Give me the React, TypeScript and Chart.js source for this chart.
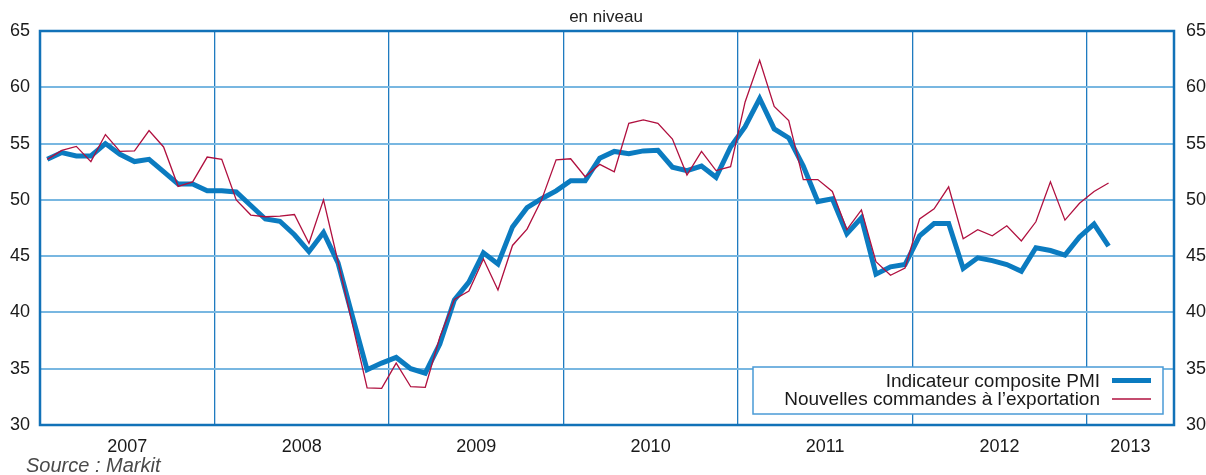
import React, { useEffect, useRef } from 'react';
import { Chart, registerables } from 'chart.js';

Chart.register(...registerables);

const years = ['2007', '2008', '2009', '2010', '2011', '2012', '2013'];
const monthsShown = 78;
const yMin = 30;
const yMax = 65;
const yStep = 5;
const subtitle = 'en niveau';
const sourceText = 'Source : Markit';
const seriesNames = ['Indicateur composite PMI', 'Nouvelles commandes à l’exportation'];

// Monthly values, Jan 2007 .. Feb 2013
const pmi = [
  53.6, 54.2, 53.9, 53.9, 55.0, 54.05, 53.4, 53.6, 52.5, 51.4, 51.4, 50.8,
  50.8, 50.7, 49.5, 48.3, 48.1, 46.9, 45.4, 47.1, 44.4, 39.6, 34.9, 35.5,
  36.0, 35.0, 34.6, 37.2, 41.1, 42.7, 45.3, 44.3, 47.6, 49.3, 50.1, 50.8,
  51.7, 51.7, 53.7, 54.3, 54.1, 54.35, 54.4, 52.9, 52.6, 53.0, 52.0, 54.7,
  56.5, 59.0, 56.3, 55.5, 53.0, 49.85, 50.1, 47.0, 48.4, 43.4, 44.05, 44.25,
  46.8, 47.9, 47.9, 43.9, 44.85, 44.6, 44.25, 43.65, 45.75, 45.5, 45.1, 46.7,
  47.85, 45.9,
];

const exportOrders = [
  53.6, 54.4, 54.75, 53.4, 55.8, 54.3, 54.35, 56.15, 54.7, 51.2, 51.6, 53.8,
  53.6, 50.0, 48.65, 48.5, 48.55, 48.7, 46.15, 50.0, 44.5, 38.9, 33.3, 33.25,
  35.5, 33.4, 33.35, 37.8, 41.15, 41.9, 44.75, 42.0, 45.95, 47.4, 50.0, 53.55,
  53.65, 52.05, 53.15, 52.5, 56.8, 57.1, 56.8, 55.4, 52.2, 54.3, 52.6, 52.95,
  58.7, 62.4, 58.3, 57.05, 51.8, 51.8, 50.75, 47.35, 49.1, 44.5, 43.3, 43.95,
  48.3, 49.2, 51.15, 46.55, 47.35, 46.8, 47.7, 46.35, 48.05, 51.6, 48.2, 49.7,
  50.75, 51.5,
];

const FONT = "'Liberation Sans', Arial, sans-serif";
const PMI_COLOR = '#0b7bc0';
const EXP_COLOR = '#b0103f';
const FRAME_COLOR = '#1272b8';

const yearCenters = years.map((_, i) => {
  const s = i * 12;
  const e = Math.min(s + 12, monthsShown);
  return (s + e) / 2;
});
const yearBounds = years.map((_, i) => i * 12).filter((v) => v > 0 && v < monthsShown);

const decorPlugin = {
  id: 'decor',
  beforeDatasetsDraw(chart: any) {
    const { ctx, chartArea } = chart;
    ctx.save();
    ctx.strokeStyle = FRAME_COLOR;
    ctx.lineWidth = 2.5;
    ctx.strokeRect(chartArea.left, chartArea.top, chartArea.right - chartArea.left, chartArea.bottom - chartArea.top);
    ctx.restore();
  },
  afterDraw(chart: any) {
    const { ctx, chartArea } = chart;
    ctx.save();
    // subtitle
    ctx.fillStyle = '#222';
    ctx.font = `17px ${FONT}`;
    ctx.textAlign = 'center';
    ctx.textBaseline = 'middle';
    ctx.fillText(subtitle, (chartArea.left + chartArea.right) / 2 - 1, 17);

    // source
    ctx.fillStyle = '#4a4a4a';
    ctx.font = `italic 20px ${FONT}`;
    ctx.textAlign = 'left';
    ctx.textBaseline = 'alphabetic';
    ctx.fillText(sourceText, 26, 472);

    // legend box
    const bx = 753, by = 367, bw = 410, bh = 47;
    ctx.fillStyle = '#ffffff';
    ctx.fillRect(bx, by, bw, bh);
    ctx.strokeStyle = '#4a9ad6';
    ctx.lineWidth = 1.5;
    ctx.strokeRect(bx, by, bw, bh);

    ctx.font = `19px ${FONT}`;
    ctx.fillStyle = '#1a1a1a';
    ctx.textAlign = 'right';
    ctx.textBaseline = 'middle';
    const textRight = 1100;
    const rows = [
      { label: seriesNames[0], color: PMI_COLOR, width: 5, y: 380.5 },
      { label: seriesNames[1], color: EXP_COLOR, width: 1.3, y: 399 },
    ];
    rows.forEach((r) => {
      ctx.fillText(r.label, textRight, r.y + 1);
      ctx.beginPath();
      ctx.strokeStyle = r.color;
      ctx.lineWidth = r.width;
      ctx.moveTo(1112, r.y);
      ctx.lineTo(1151, r.y);
      ctx.stroke();
    });
    ctx.restore();
  },
};

export default function App() {
  const ref = useRef<HTMLCanvasElement | null>(null);

  useEffect(() => {
    document.body.style.margin = '0';
    const canvas = ref.current;
    if (!canvas) return;
    const chart = new Chart(canvas, {
      type: 'line',
      data: {
        datasets: [
          {
            label: seriesNames[1],
            data: exportOrders.map((v, i) => ({ x: i + 0.5, y: v })),
            borderColor: EXP_COLOR,
            borderWidth: 1.3,
            pointRadius: 0,
            tension: 0,
            order: 0,
            xAxisID: 'x',
            yAxisID: 'y',
          },
          {
            label: seriesNames[0],
            data: pmi.map((v, i) => ({ x: i + 0.5, y: v })),
            borderColor: PMI_COLOR,
            borderWidth: 5,
            pointRadius: 0,
            tension: 0,
            order: 1,
            xAxisID: 'x',
            yAxisID: 'y',
          },
        ],
      },
      options: {
        responsive: false,
        animation: false,
        devicePixelRatio: 1,
        layout: { padding: { top: 31, bottom: 0, left: 0, right: 0 } },
        plugins: {
          legend: { display: false },
          tooltip: { enabled: false },
          title: { display: false },
        },
        scales: {
          x: {
            type: 'linear',
            position: 'bottom',
            min: 0,
            max: monthsShown,
            afterBuildTicks: (s: any) => {
              s.ticks = yearCenters.map((v) => ({ value: v }));
            },
            afterFit: (s: any) => {
              s.height = 50;
            },
            grid: { display: false, drawTicks: false },
            border: { display: false },
            ticks: {
              autoSkip: false,
              maxRotation: 0,
              padding: 11,
              color: '#1a1a1a',
              font: { family: FONT, size: 18 },
              callback: (v: any) => {
                const idx = yearCenters.indexOf(Number(v));
                return idx >= 0 ? years[idx] : '';
              },
            },
          },
          x2: {
            type: 'linear',
            position: 'top',
            min: 0,
            max: monthsShown,
            afterBuildTicks: (s: any) => {
              s.ticks = yearBounds.map((v) => ({ value: v }));
            },
            afterFit: (s: any) => {
              s.height = 0;
            },
            grid: { display: true, drawTicks: false, color: '#1f7bc0', lineWidth: 1.3 },
            border: { display: false },
            ticks: { display: false },
          },
          y: {
            type: 'linear',
            position: 'left',
            min: yMin,
            max: yMax,
            afterFit: (s: any) => {
              s.width = 40;
            },
            grid: { display: true, drawTicks: false, color: '#78b7e1', lineWidth: 2 },
            border: { display: false },
            ticks: {
              stepSize: yStep,
              padding: 10,
              color: '#1a1a1a',
              font: { family: FONT, size: 18 },
            },
          },
          y2: {
            type: 'linear',
            position: 'right',
            min: yMin,
            max: yMax,
            afterFit: (s: any) => {
              s.width = 32;
            },
            grid: { display: false, drawTicks: false },
            border: { display: false },
            ticks: {
              stepSize: yStep,
              padding: 12,
              color: '#1a1a1a',
              font: { family: FONT, size: 18 },
            },
          },
        },
      },
      plugins: [decorPlugin],
    } as any);
    return () => chart.destroy();
  }, []);

  return (
    <div style={{ width: 1206, height: 475, position: 'relative', background: '#fff' }}>
      <canvas ref={ref} width={1206} height={475} style={{ display: 'block' }} />
    </div>
  );
}
